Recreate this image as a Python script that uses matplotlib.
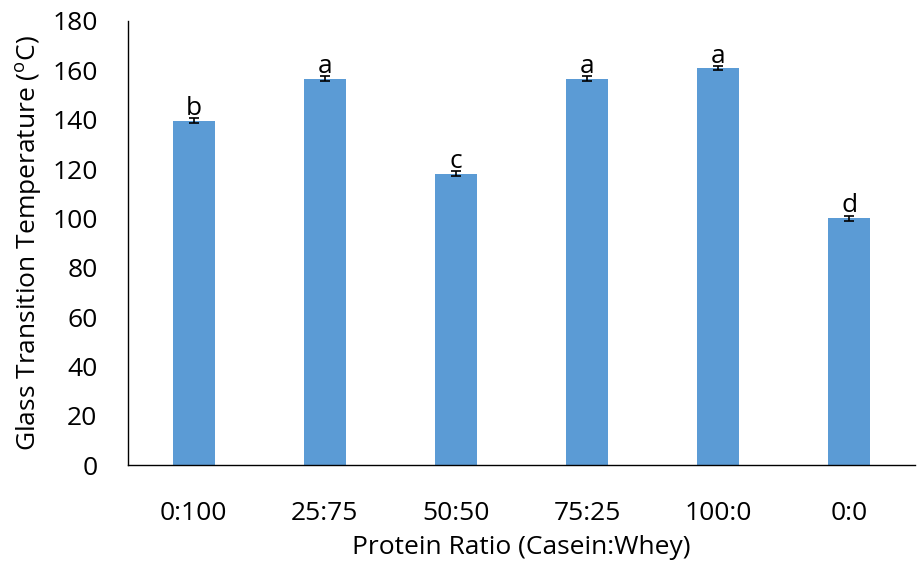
import matplotlib
matplotlib.use("Agg")
import matplotlib.pyplot as plt
import numpy as np

categories = ["0:100", "25:75", "50:50", "75:25", "100:0", "0:0"]
values = [139.5, 156.5, 118.0, 156.5, 160.8, 100.0]
errors = [1.0, 1.0, 1.0, 1.0, 0.8, 1.0]
letters = ["b", "a", "c", "a", "a", "d"]
yticks = [0, 20, 40, 60, 80, 100, 120, 140, 160, 180]

plt.rcParams['font.family'] = ['Open Sans', 'DejaVu Sans']

fig = plt.figure(figsize=(9.17, 5.61), dpi=100)
ax = fig.add_axes([0.1396, 0.171, 0.858, 0.7916])
x = np.arange(len(categories))
ax.bar(x, values, width=0.32, color="#5B9BD5", zorder=2)
ax.errorbar(x, values, yerr=errors, fmt="none", ecolor="black", elinewidth=1.2,
            capsize=3.5, capthick=1.2, zorder=3)
for xi, v, e, l in zip(x, values, errors, letters):
    ax.text(xi, v + e - 1.0, l, ha="center", va="bottom", fontsize=19)

ax.set_xlim(-0.5, len(categories) - 0.5)
ax.set_ylim(0, 180)
ax.set_yticks(yticks)
ax.set_xticks(x)
ax.set_xticklabels(categories)
ax.tick_params(axis="both", length=0, labelsize=19)
ax.tick_params(axis="y", pad=22)
ax.tick_params(axis="x", pad=26)
for s in ["top", "right"]:
    ax.spines[s].set_visible(False)
for s in ["left", "bottom"]:
    ax.spines[s].set_linewidth(1.0)
ax.set_ylabel(r"Glass Transition Temperature ($\mathregular{^o}$C)", fontsize=19, labelpad=6)
ax.set_xlabel("Protein Ratio (Casein:Whey)", fontsize=19, labelpad=6)
fig.savefig("out.png", dpi=100)
